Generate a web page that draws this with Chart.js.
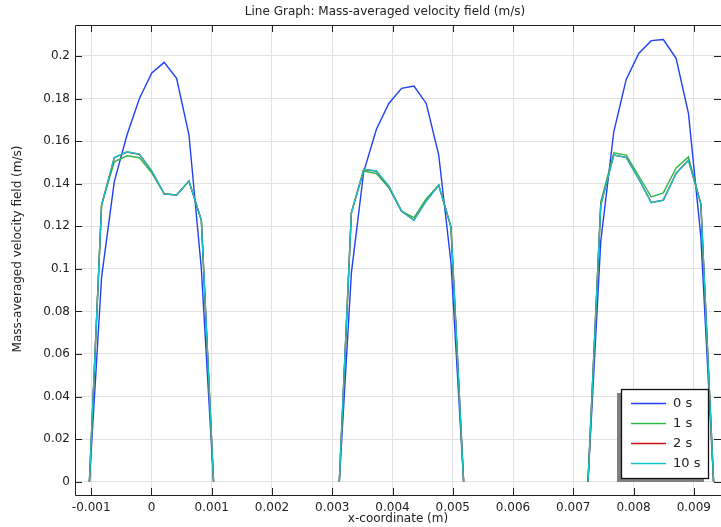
<!DOCTYPE html>
<html>
<head>
<meta charset="utf-8">
<script src="https://cdn.jsdelivr.net/npm/chart.js@4.4.1/dist/chart.umd.min.js"></script>
<style>
  html, body { margin: 0; padding: 0; background: #fff; }
  #wrap { width: 721px; height: 527px; }
</style>
</head>
<body>
<div id="wrap"><canvas id="chart1" width="721" height="527"></canvas></div>
<script>
// x nodes of the three channels
const xLeft = [-0.00103, -0.000828, -0.000617, -0.000405, -0.0002, 0.000005, 0.000211, 0.000417, 0.000622, 0.000828, 0.00103];
const xMid = [0.003117, 0.003317, 0.003522, 0.003733, 0.003939, 0.00415, 0.004356, 0.00456, 0.004767, 0.00497, 0.00518];
const xRight = [0.007244, 0.007456, 0.007672, 0.007878, 0.008089, 0.008294, 0.008494, 0.008706, 0.008911, 0.009117, 0.009328];

// velocity (m/s), one array per time and channel
const v0Left = [0, 0.096, 0.141, 0.163, 0.180, 0.192, 0.197, 0.1895, 0.163, 0.100, 0];
const v0Mid = [0, 0.098, 0.1456, 0.1656, 0.1777, 0.1848, 0.1859, 0.1777, 0.1534, 0.103, 0];
const v0Right = [0, 0.113, 0.1644, 0.189, 0.2013, 0.2072, 0.2077, 0.1989, 0.173, 0.115, 0];

const v1Left = [0, 0.130, 0.1503, 0.1531, 0.1522, 0.1451, 0.1352, 0.1347, 0.1412, 0.1228, 0];
const v1Mid = [0, 0.1263, 0.1459, 0.1448, 0.1381, 0.1271, 0.1241, 0.133, 0.1393, 0.1197, 0];
const v1Right = [0, 0.1315, 0.1545, 0.1534, 0.1435, 0.1338, 0.1357, 0.1474, 0.1526, 0.1304, 0];

const v2Left = [0, 0.130, 0.1522, 0.1549, 0.1538, 0.1459, 0.1352, 0.1347, 0.1412, 0.1228, 0];
const v2Mid = [0, 0.1263, 0.1467, 0.1459, 0.1387, 0.1271, 0.1229, 0.132, 0.1393, 0.1197, 0];
const v2Right = [0, 0.1301, 0.1535, 0.1524, 0.1421, 0.1312, 0.1323, 0.1449, 0.1511, 0.1304, 0];

const v10Left = [0, 0.130, 0.1523, 0.155, 0.1539, 0.146, 0.1352, 0.1347, 0.1412, 0.1228, 0];
const v10Mid = [0, 0.1263, 0.1468, 0.146, 0.1388, 0.1271, 0.1228, 0.1319, 0.1393, 0.1197, 0];
const v10Right = [0, 0.130, 0.1534, 0.1523, 0.142, 0.1311, 0.1322, 0.1448, 0.151, 0.1304, 0];

const seriesLabels = ['0 s', '1 s', '2 s', '10 s'];
const seriesColors = ['#2040f4', '#30b844', '#c81010', '#12c6cc'];

const xTicks = [-0.001, 0, 0.001, 0.002, 0.003, 0.004, 0.005, 0.006, 0.007, 0.008, 0.009];
const yTicks = [0, 0.02, 0.04, 0.06, 0.08, 0.1, 0.12, 0.14, 0.16, 0.18, 0.2];

// join the three channels into one line with gaps between them
function joinParts(ys) {
  const xsAll = [xLeft, xMid, xRight];
  const pts = [];
  for (let k = 0; k < 3; k++) {
    if (k > 0) pts.push({ x: (xsAll[k - 1][10] + xsAll[k][0]) / 2, y: null });
    for (let i = 0; i < xsAll[k].length; i++) {
      pts.push({ x: xsAll[k][i], y: ys[k][i] });
    }
  }
  return pts;
}

const allSeries = [
  [v0Left, v0Mid, v0Right],
  [v1Left, v1Mid, v1Right],
  [v2Left, v2Mid, v2Right],
  [v10Left, v10Mid, v10Right]
];

const data = {
  datasets: allSeries.map((s, i) => ({
    label: seriesLabels[i],
    data: joinParts(s),
    borderColor: seriesColors[i],
    backgroundColor: seriesColors[i],
    borderWidth: 1.4,
    pointRadius: 0,
    tension: 0,
    spanGaps: false,
    order: 3 - i
  }))
};

const fontFam = '"DejaVu Sans", sans-serif';

const framePlugin = {
  id: 'frame',
  afterDraw(chart) {
    const ctx = chart.ctx;
    const a = chart.chartArea;
    const xs = chart.scales.x, ys = chart.scales.y;
    ctx.save();
    // frame
    ctx.strokeStyle = '#222';
    ctx.lineWidth = 1;
    ctx.beginPath();
    ctx.moveTo(a.left + 0.5, a.top + 0.5);
    ctx.lineTo(a.right, a.top + 0.5);
    ctx.moveTo(a.left + 0.5, a.top + 0.5);
    ctx.lineTo(a.left + 0.5, a.bottom + 0.5);
    ctx.lineTo(a.right, a.bottom + 0.5);
    ctx.stroke();
    // inward tick marks
    ctx.beginPath();
    xTicks.forEach(v => {
      const px = Math.round(xs.getPixelForValue(v)) + 0.5;
      ctx.moveTo(px, a.bottom); ctx.lineTo(px, a.bottom - 7);
      ctx.moveTo(px, a.top); ctx.lineTo(px, a.top + 7);
    });
    yTicks.forEach(v => {
      const py = Math.round(ys.getPixelForValue(v)) + 0.5;
      ctx.moveTo(a.left, py); ctx.lineTo(a.left + 7, py);
      ctx.moveTo(a.right, py); ctx.lineTo(a.right - 7, py);
    });
    ctx.stroke();

    // title and y axis title
    ctx.fillStyle = '#222';
    ctx.font = '12px ' + fontFam;
    ctx.textAlign = 'center';
    ctx.textBaseline = 'middle';
    ctx.fillText('Line Graph: Mass-averaged velocity field (m/s)', 385, 12);
    ctx.save();
    ctx.translate(18, 249);
    ctx.rotate(-Math.PI / 2);
    ctx.fillText('Mass-averaged velocity field (m/s)', 0, 0);
    ctx.restore();

    // legend box with shadow
    const bx = 621, by = 389, bw = 87, bh = 89;
    ctx.fillStyle = '#808080';
    ctx.fillRect(bx - 4, by + 4, bw, bh);
    ctx.fillStyle = '#fff';
    ctx.fillRect(bx, by, bw, bh);
    ctx.strokeStyle = '#111';
    ctx.lineWidth = 1.3;
    ctx.strokeRect(bx + 0.5, by + 0.5, bw, bh);
    ctx.font = '13px ' + fontFam;
    ctx.textAlign = 'left';
    seriesLabels.forEach((lab, i) => {
      const ly = 403.5 + i * 20;
      ctx.strokeStyle = seriesColors[i];
      ctx.lineWidth = 1.5;
      ctx.beginPath();
      ctx.moveTo(631, ly); ctx.lineTo(666, ly);
      ctx.stroke();
      ctx.fillStyle = '#222';
      ctx.fillText(lab, 673, ly);
    });
    ctx.restore();
  }
};

const config = {
  type: 'line',
  data: data,
  options: {
    responsive: false,
    animation: false,
    layout: { padding: { top: 25, right: 0, left: 0, bottom: 0 } },
    plugins: {
      legend: { display: false },
      title: { display: false },
      tooltip: { enabled: false }
    },
    scales: {
      x: {
        type: 'linear',
        min: -0.001269,
        max: 0.009451,
        afterBuildTicks(scale) { scale.ticks = xTicks.map(v => ({ value: v })); },
        afterFit(scale) { scale.height = 32; },
        border: { display: false },
        grid: { color: '#e2e2e2', drawTicks: false, lineWidth: 1 },
        ticks: {
          padding: 6,
          color: '#222',
          font: { family: fontFam, size: 12 },
          maxRotation: 0,
          autoSkip: false,
          callback: v => String(parseFloat(v.toFixed(4)))
        },
        title: {
          display: true,
          text: 'x-coordinate (m)',
          color: '#222',
          font: { family: fontFam, size: 12 },
          padding: { top: 0, bottom: 1 }
        }
      },
      y: {
        type: 'linear',
        min: -0.00625,
        max: 0.21456,
        afterBuildTicks(scale) { scale.ticks = yTicks.map(v => ({ value: v })); },
        afterFit(scale) { scale.width = 75; },
        border: { display: false },
        grid: { color: '#e2e2e2', drawTicks: false, lineWidth: 1 },
        ticks: {
          padding: 5,
          color: '#222',
          font: { family: fontFam, size: 12 },
          autoSkip: false,
          callback: v => String(parseFloat(v.toFixed(4)))
        }
      }
    }
  },
  plugins: [framePlugin]
};

var myChart = new Chart(
  document.getElementById('chart1'),
  config
);
</script>
</body>
</html>
